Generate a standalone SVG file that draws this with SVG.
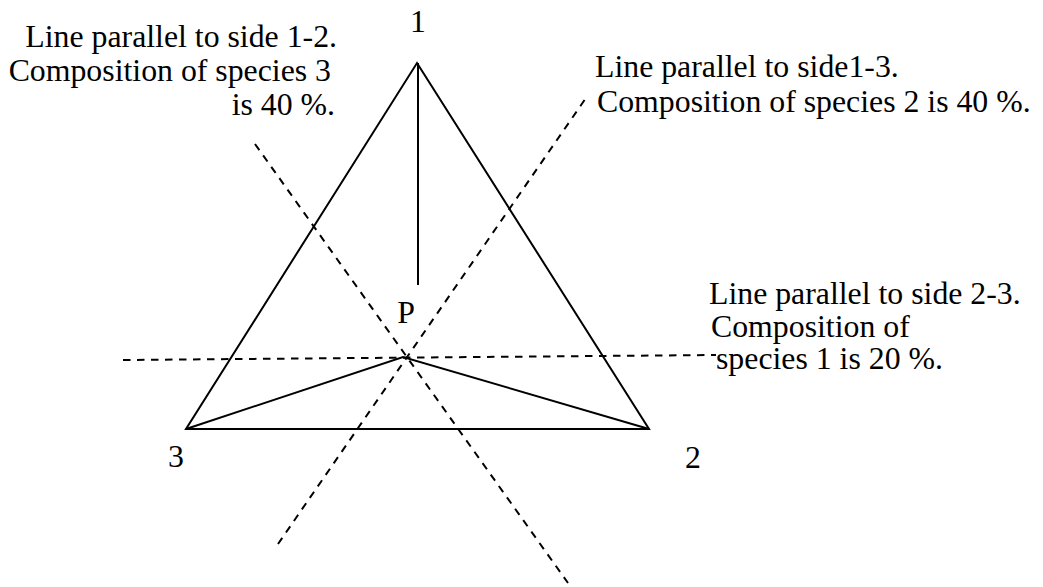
<svg xmlns="http://www.w3.org/2000/svg" width="1043" height="587" viewBox="0 0 1043 587">
<style>
.t{font-family:"Liberation Serif","Times New Roman","DejaVu Serif",serif;font-size:31.8px;fill:#000}
.s{stroke:#000;stroke-width:2;fill:none;stroke-linejoin:miter}
.d{stroke:#000;stroke-width:2;fill:none;stroke-dasharray:7.5 6.5}
</style>
<rect width="1043" height="587" fill="#fff"/>
<g id="connectors">
<polygon class="s" points="417,63 649,429 186,429"/>
<line class="s" x1="418" y1="63" x2="418" y2="285"/>
<polyline class="s" points="186,429 403,357 649,429"/>
<line class="d" x1="123" y1="360" x2="716" y2="355"/>
<line class="d" x1="255" y1="144" x2="568" y2="583"/>
<line class="d" x1="278" y1="544" x2="588" y2="95"/>
</g>
<g id="vertex1"><text class="t" x="418" y="32" text-anchor="middle">1</text></g>
<g id="vertex2"><text class="t" x="693" y="468" text-anchor="middle">2</text></g>
<g id="vertex3"><text class="t" x="176" y="467" text-anchor="middle">3</text></g>
<g id="pointP"><text class="t" x="406" y="323" text-anchor="middle">P</text></g>
<g id="label12">
<text class="t" x="337" y="47" text-anchor="end">Line parallel to side 1-2.</text>
<text class="t" x="331" y="81" text-anchor="end">Composition of species 3</text>
<text class="t" x="335" y="115" text-anchor="end">is 40 %.</text>
</g>
<g id="label13">
<text class="t" x="595" y="77">Line parallel to side1-3.</text>
<text class="t" x="597" y="112">Composition of species 2 is 40 %.</text>
</g>
<g id="label23">
<text class="t" x="709" y="304">Line parallel to side 2-3.</text>
<text class="t" x="711" y="337">Composition of</text>
<text class="t" x="716" y="369">species 1 is 20 %.</text>
</g>
</svg>
